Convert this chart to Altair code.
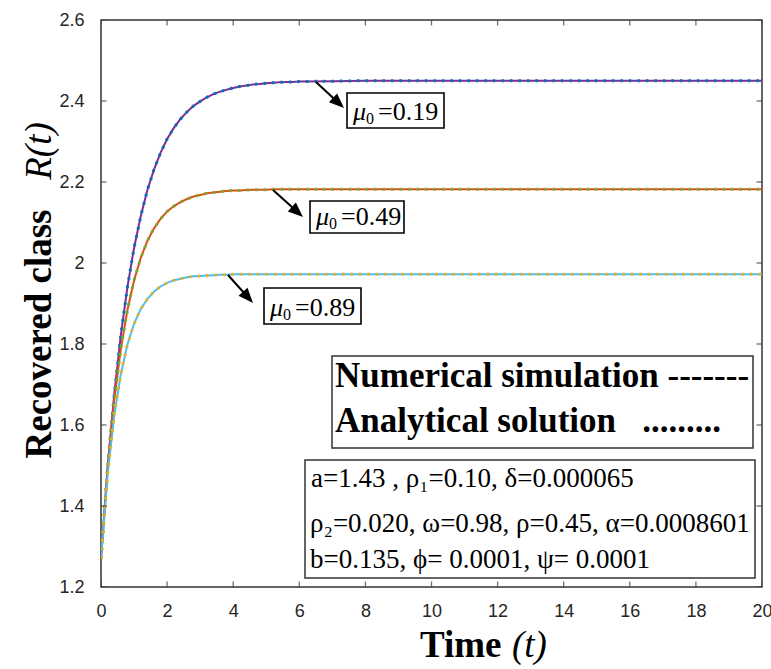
import math
import altair as alt
import pandas as pd

# ---------------- data ----------------
t = [0.0, 0.2, 0.4, 0.6, 0.8, 1.0, 1.2, 1.4, 1.6, 1.8, 2.0, 2.2, 2.4, 2.6, 2.8,
     3.0, 3.2, 3.4, 3.6, 3.8, 4.0, 4.2, 4.4, 4.6, 4.8, 5.0, 5.2, 5.4, 5.6, 5.8,
     6.0, 7.0, 8.0, 9.0, 10.0, 11.0, 12.0, 13.0, 14.0, 15.0, 16.0, 17.0, 18.0,
     19.0, 20.0]

r_mu019 = [1.270, 1.494, 1.675, 1.822, 1.941, 2.037, 2.115, 2.179, 2.230, 2.272,
           2.306, 2.333, 2.355, 2.373, 2.388, 2.399, 2.409, 2.417, 2.423, 2.428,
           2.432, 2.436, 2.438, 2.441, 2.442, 2.444, 2.445, 2.446, 2.447, 2.447,
           2.448, 2.449, 2.450, 2.450, 2.450, 2.450, 2.450, 2.450, 2.450, 2.450,
           2.450, 2.450, 2.450, 2.450, 2.450]

r_mu049 = [1.270, 1.493, 1.661, 1.788, 1.884, 1.957, 2.012, 2.054, 2.085, 2.109,
           2.127, 2.140, 2.150, 2.158, 2.164, 2.168, 2.172, 2.174, 2.176, 2.178,
           2.179, 2.179, 2.180, 2.181, 2.181, 2.181, 2.182, 2.182, 2.182, 2.182,
           2.182, 2.182, 2.182, 2.182, 2.182, 2.182, 2.182, 2.182, 2.182, 2.182,
           2.182, 2.182, 2.182, 2.182, 2.182]

r_mu089 = [1.270, 1.477, 1.623, 1.726, 1.799, 1.850, 1.886, 1.911, 1.929, 1.942,
           1.951, 1.957, 1.961, 1.965, 1.967, 1.968, 1.969, 1.970, 1.971, 1.971,
           1.972, 1.972, 1.972, 1.972, 1.972, 1.972, 1.972, 1.972, 1.972, 1.972,
           1.972, 1.972, 1.972, 1.972, 1.972, 1.972, 1.972, 1.972, 1.972, 1.972,
           1.972, 1.972, 1.972, 1.972, 1.972]

series_names = ["mu0=0.19", "mu0=0.49", "mu0=0.89"]
line_colors = ["#7E2F8E", "#D95319", "#4DBEEE"]
dot_colors = ["#0072BD", "#77AC30", "#EDB120"]

x_ticks = [0, 2, 4, 6, 8, 10, 12, 14, 16, 18, 20]
y_ticks = [1.2, 1.4, 1.6, 1.8, 2.0, 2.2, 2.4, 2.6]

rows = []
for name, vals in zip(series_names, [r_mu019, r_mu049, r_mu089]):
    for tt, v in zip(t, vals):
        rows.append({"t": tt, "R": v, "series": name})
df = pd.DataFrame(rows)

# ---------------- layout ----------------
LEFT, TOP, W, H = 101, 20, 661, 567
SERIF = "Liberation Serif"
NB = "\u00a0"

xscale = alt.Scale(domain=[0, 20], nice=False, zero=False)
yscale = alt.Scale(domain=[1.2, 2.6], nice=False, zero=False)

xaxis = alt.Axis(values=x_ticks, format="d", title=None, labelPadding=15, labelFlush=False)
yaxis = alt.Axis(values=y_ticks, format="~g", title=None, labelPadding=17, labelFlush=False)

base = alt.Chart(df)
numerical = base.mark_line(strokeWidth=2, clip=True).encode(
    x=alt.X("t:Q", scale=xscale, axis=xaxis),
    y=alt.Y("R:Q", scale=yscale, axis=yaxis),
    color=alt.Color("series:N", scale=alt.Scale(domain=series_names, range=line_colors), legend=None),
    order="t:Q",
)
analytical = base.mark_line(strokeWidth=3, strokeDash=[2.5, 6], clip=True).encode(
    x=alt.X("t:Q", scale=xscale, axis=xaxis),
    y=alt.Y("R:Q", scale=yscale, axis=yaxis),
    color=alt.Color("series:N", scale=alt.Scale(domain=series_names, range=dot_colors), legend=None),
    order="t:Q",
)

FRAME = "#333333"
xt = pd.DataFrame({"t": x_ticks})
yt = pd.DataFrame({"R": y_ticks})
tick_bottom = alt.Chart(xt).mark_tick(orient="vertical", size=11, thickness=1.3, color=FRAME, clip=True).encode(
    x=alt.X("t:Q", scale=xscale, axis=xaxis), y=alt.datum(1.2))
tick_top = alt.Chart(xt).mark_tick(orient="vertical", size=11, thickness=1.3, color=FRAME, clip=True).encode(
    x=alt.X("t:Q", scale=xscale, axis=xaxis), y=alt.datum(2.6))
tick_left = alt.Chart(yt).mark_tick(orient="horizontal", size=11, thickness=1.3, color=FRAME, clip=True).encode(
    y=alt.Y("R:Q", scale=yscale, axis=yaxis), x=alt.datum(0))
tick_right = alt.Chart(yt).mark_tick(orient="horizontal", size=11, thickness=1.3, color=FRAME, clip=True).encode(
    y=alt.Y("R:Q", scale=yscale, axis=yaxis), x=alt.datum(20))

dummy = pd.DataFrame({"k": [0]})


def txt(s, x, y, size, weight="normal", style="normal", align="left",
        baseline="alphabetic", angle=0, font=SERIF, color="black"):
    return alt.Chart(dummy).mark_text(
        text=s, fontSize=size, fontWeight=weight, fontStyle=style, align=align,
        baseline=baseline, angle=angle, font=font, color=color,
    ).encode(x=alt.value(x - LEFT), y=alt.value(y - TOP))


def box(x0, y0, x1, y1, sw=1.6, stroke="black"):
    return alt.Chart(dummy).mark_rect(fill="white", stroke=stroke, strokeWidth=sw).encode(
        x=alt.value(x0 - LEFT), x2=alt.value(x1 - LEFT),
        y=alt.value(y0 - TOP), y2=alt.value(y1 - TOP))


def arrow(x0, y0, x1, y1):
    dx, dy = x1 - x0, y1 - y0
    L = math.hypot(dx, dy)
    ux, uy = dx / L, dy / L
    cx, cy = x1 - 10 * ux, y1 - 10 * uy
    ang = math.degrees(math.atan2(ux, -uy)) % 360
    shaft = alt.Chart(dummy).mark_rule(strokeWidth=2, color="black").encode(
        x=alt.value(x0 - LEFT), y=alt.value(y0 - TOP),
        x2=alt.value(cx - LEFT), y2=alt.value(cy - TOP))
    head = alt.Chart(dummy).mark_point(
        shape="M0,-1L0.6,0.5L-0.6,0.5Z", size=400, filled=True, opacity=1,
        color="black", angle=ang, strokeWidth=0,
    ).encode(x=alt.value(cx - LEFT), y=alt.value(cy - TOP))
    return [shaft, head]


def mu_label(x0, y0, x1, y1, value):
    base_y = y1 - 8
    return [
        box(x0, y0, x1, y1),
        txt("\u03bc", x0 + 6, base_y, 26, style="italic"),
        txt("0", x0 + 19, base_y + 4, 16),
        txt("=" + value, x0 + 31, base_y, 26),
    ]


layers = [numerical, analytical, tick_bottom, tick_top, tick_left, tick_right]
layers += arrow(316, 82, 344, 108) + mu_label(347, 93, 444, 128, "0.19")
layers += arrow(273, 190, 303, 217) + mu_label(310, 201, 404, 233, "0.49")
layers += arrow(228, 275, 253, 303) + mu_label(264, 288, 361, 324, "0.89")

# legend-like text box
layers += [
    box(332, 356, 753, 448, sw=1.5, stroke="#333333"),
    txt("Numerical simulation -------", 335, 387, 35, weight="bold"),
    txt("Analytical solution" + NB * 3 + ".........", 335, 432, 35, weight="bold"),
]

# parameter box
layers += [
    box(305, 460, 755, 578, sw=1.5, stroke="#333333"),
    txt("a=1.43 , \u03c1\u2081=0.10, \u03b4=0.000065", 311, 487, 27),
    txt("\u03c1\u2082=0.020, \u03c9=0.98,  \u03c1=0.45, \u03b1=0.0008601", 310, 532, 27),
    txt("b=0.135, \u03d5= 0.0001, \u03c8= 0.0001", 310, 568, 27),
]

# axis titles
layers += [
    txt("Recovered class", 40, 334, 37, weight="bold", align="center", baseline="middle", angle=270),
    txt("R(t)", 40, 151, 37, style="italic", align="center", baseline="middle", angle=270),
    txt("Time", 420, 657, 37, weight="bold"),
    txt("(t)", 512, 657, 37, style="italic"),
]

chart = alt.layer(*layers).resolve_scale(color="independent").properties(
    width=W, height=H,
    autosize=alt.AutoSizeParams(type="none"),
    padding={"left": LEFT, "top": TOP, "right": 771 - LEFT - W, "bottom": 669 - TOP - H},
    background="white",
).configure_view(
    stroke=FRAME, strokeWidth=1.5
).configure_axis(
    grid=False, domain=False, ticks=False,
    labelFont="Liberation Sans", labelFontSize=18, labelColor="#262626",
)

chart.save("out.html", embed_options={"renderer": "svg", "actions": False})
